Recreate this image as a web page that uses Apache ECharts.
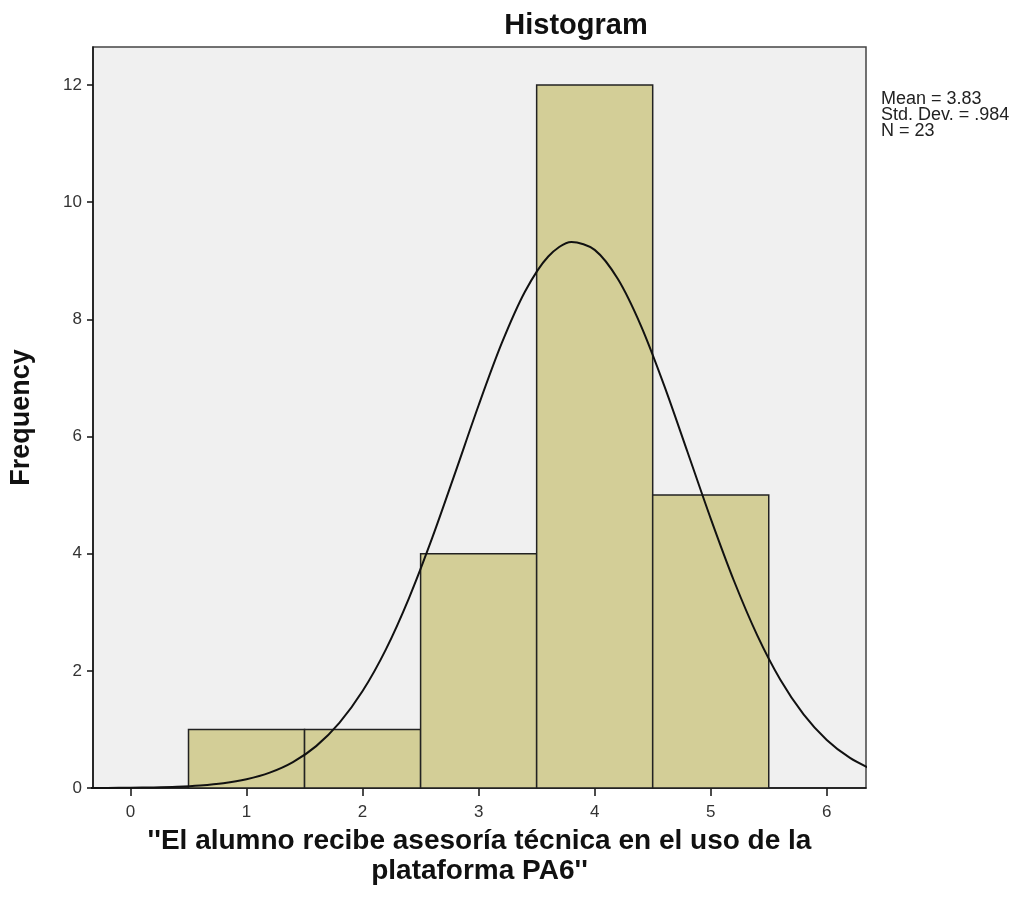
<!DOCTYPE html>
<html>
<head>
<meta charset="utf-8">
<script src="https://cdn.jsdelivr.net/npm/echarts@6/dist/echarts.min.js"></script>
<style>
html,body{margin:0;padding:0;background:#fff;}
#chart{width:1026px;height:901px;}
</style>
</head>
<body>
<div id="chart"></div>
<script>
// ---- data ----
var binCenters = [1, 2, 3, 4, 5];
var frequencies = [1, 1, 4, 12, 5];
var binWidth = 1;
var xTicks = [0, 1, 2, 3, 4, 5, 6];
var yTicks = [0, 2, 4, 6, 8, 10, 12];
// normal curve
var curveX = [-0.4, -0.2, 0, 0.2, 0.4, 0.6, 0.8, 1.0, 1.2, 1.4, 1.6, 1.8, 2.0, 2.2, 2.4, 2.6, 2.8, 3.0, 3.2, 3.4, 3.6, 3.8, 4.0, 4.2, 4.4, 4.6, 4.8, 5.0, 5.2, 5.4, 5.6, 5.8, 6.0, 6.2, 6.4];
var curveY = [0.001, 0.002, 0.005, 0.010, 0.021, 0.043, 0.081, 0.149, 0.262, 0.442, 0.715, 1.111, 1.655, 2.363, 3.243, 4.269, 5.392, 6.534, 7.597, 8.476, 9.074, 9.321, 9.187, 8.688, 7.885, 6.865, 5.736, 4.599, 3.538, 2.611, 1.849, 1.257, 0.820, 0.513, 0.308];
var statMean = '3.83';
var statSD = '.984';
var statN = '23';
var chartTitle = 'Histogram';
var xName = "''El alumno recibe asesoría técnica en el uso de la\nplataforma PA6''";
var yName = 'Frequency';

var barData = binCenters.map(function (c, i) { return [c - binWidth / 2, c + binWidth / 2, frequencies[i]]; });
var curveData = curveX.map(function (x, i) { return [x, curveY[i]]; });

var chart = echarts.init(document.getElementById('chart'), null, {renderer: 'canvas'});
var FONT = '"Liberation Sans", Arial, sans-serif';
chart.setOption({
  animation: false,
  backgroundColor: '#ffffff',
  title: [
    {text: chartTitle, left: 571, top: 6, textAlign: 'center',
     textStyle: {fontFamily: FONT, fontWeight: 'bold', fontSize: 29, color: '#111'}},
    {text: 'Mean = ' + statMean + '\nStd. Dev. = ' + statSD + '\nN = ' + statN, left: 876, top: 86,
     textStyle: {fontFamily: FONT, fontWeight: 'normal', fontSize: 18, lineHeight: 16, color: '#222'}}
  ],
  grid: {left: 92, right: 160, top: 47, bottom: 113, show: true, backgroundColor: '#f0f0f0', borderColor: '#444', borderWidth: 1.5},
  xAxis: {
    type: 'value', min: -0.323, max: 6.338,
    name: xName, nameLocation: 'middle', nameGap: 28,
    nameTextStyle: {fontFamily: FONT, fontWeight: 'bold', fontSize: 28, lineHeight: 30, color: '#111'},
    axisLine: {show: true, onZero: false, lineStyle: {color: '#111', width: 1.5}},
    axisTick: {show: true, length: 8, customValues: xTicks, lineStyle: {color: '#111', width: 1.5}},
    axisLabel: {customValues: xTicks, fontFamily: FONT, fontSize: 17, color: '#333', margin: 16},
    splitLine: {show: false}
  },
  yAxis: {
    type: 'value', min: 0, max: 12.65,
    name: yName, nameLocation: 'middle', nameGap: 58, nameRotate: 90,
    nameTextStyle: {fontFamily: FONT, fontWeight: 'bold', fontSize: 27, color: '#111'},
    axisLine: {show: true, onZero: false, lineStyle: {color: '#111', width: 1.5}},
    axisTick: {show: true, length: 6, customValues: yTicks, lineStyle: {color: '#111', width: 1.5}},
    axisLabel: {customValues: yTicks, fontFamily: FONT, fontSize: 17, color: '#333', margin: 11},
    splitLine: {show: false}
  },
  series: [
    {
      type: 'custom',
      data: barData,
      renderItem: function (params, api) {
        var p0 = api.coord([api.value(0), api.value(2)]);
        var p1 = api.coord([api.value(1), 0]);
        return {
          type: 'rect',
          shape: {x: p0[0], y: p0[1], width: p1[0] - p0[0], height: p1[1] - p0[1]},
          style: {fill: '#d3ce97', stroke: '#222', lineWidth: 1.5}
        };
      },
      encode: {x: [0, 1], y: 2},
      z: 2
    },
    {
      type: 'line', data: curveData, smooth: 0.3, showSymbol: false, symbol: 'none',
      lineStyle: {color: '#111', width: 2}, z: 3, clip: true
    }
  ]
});
</script>
</body>
</html>
